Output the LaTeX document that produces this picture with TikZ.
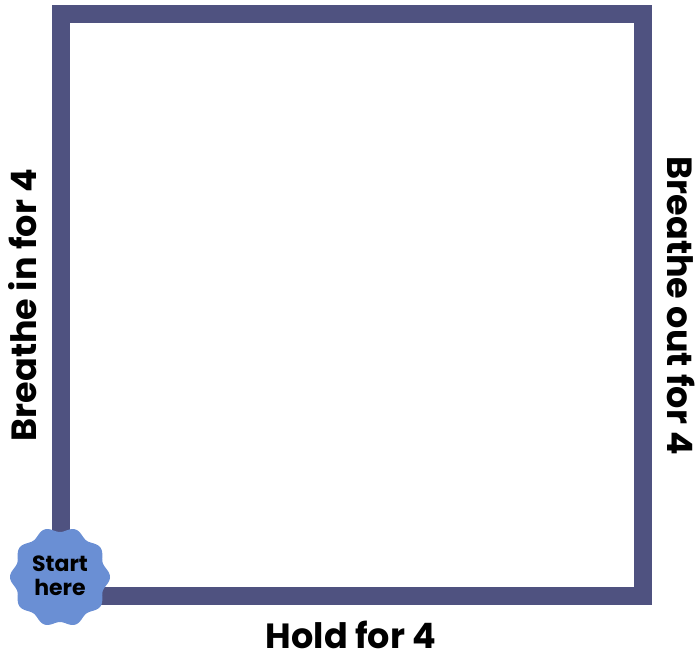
\documentclass[tikz,border=0pt]{standalone}
\usepackage{fontspec}
\setmainfont{Poppins}[UprightFont=* SemiBold, BoldFont=* Bold]
\definecolor{frame}{HTML}{4F5280}
\definecolor{badge}{HTML}{6A8FD4}
\tikzset{
  lbl/.style={font=\fontsize{35}{35}\selectfont\bfseries, text=black, inner sep=0pt},
  blbl/.style={font=\fontsize{22}{24}\selectfont\bfseries, text=black, align=center, inner sep=0pt}
}
\begin{document}
\begin{tikzpicture}[x=1pt,y=-1pt]
\useasboundingbox (0,0) rectangle (699,657);
\coordinate (tl) at (61,14);
\coordinate (br) at (643,596);
\draw[frame, line width=18pt] (tl) rectangle (br);
\fill[badge] plot[domain=0:360, samples=200, smooth] ({60+(47.5+2.5*cos(10*\x))*cos(\x)}, {577+(47.5+2.5*cos(10*\x))*sin(\x)}) -- cycle;
\node[blbl] (start) at (60,576) {Start\\here};
\node[lbl, rotate=90] (in) at (23,305) {Breathe in for 4};
\node[lbl, rotate=-90] (out) at (681,306) {Breathe out for 4};
\node[lbl, text height=25pt, text depth=0pt, anchor=base] (hold) at (351,648) {Hold for 4};
\end{tikzpicture}
\end{document}
